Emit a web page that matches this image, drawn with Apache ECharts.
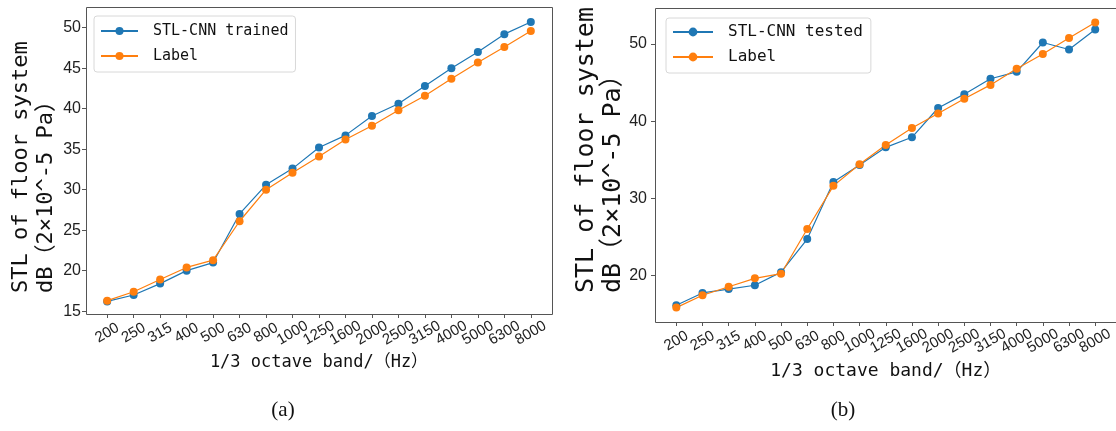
<!DOCTYPE html>
<html>
<head>
<meta charset="utf-8">
<script src="https://cdn.jsdelivr.net/npm/echarts@6/dist/echarts.min.js"></script>
<style>
html,body{margin:0;padding:0;background:#fff;}
#c{width:1116px;height:431px;}
</style>
</head>
<body>
<div id="c"></div>
<script>
// ---- data ----
const bands = ['200','250','315','400','500','630','800','1000','1250','1600','2000','2500','3150','4000','5000','6300','8000'];
const trainedPred  = [16.2, 17.0, 18.4, 20.0, 21.0, 27.0, 30.6, 32.6, 35.2, 36.7, 39.1, 40.6, 42.8, 45.0, 47.0, 49.2, 50.7];
const trainedLabel = [16.3, 17.4, 18.9, 20.4, 21.3, 26.1, 30.0, 32.1, 34.1, 36.2, 37.9, 39.8, 41.6, 43.7, 45.7, 47.6, 49.6];
const testedPred   = [16.1, 17.7, 18.2, 18.7, 20.4, 24.7, 32.1, 34.3, 36.6, 37.9, 41.7, 43.5, 45.5, 46.4, 50.2, 49.3, 51.9];
const testedLabel  = [15.8, 17.4, 18.5, 19.6, 20.2, 26.0, 31.6, 34.4, 36.9, 39.1, 41.0, 42.9, 44.7, 46.8, 48.7, 50.8, 52.8];
const yTicksA = [15, 20, 25, 30, 35, 40, 45, 50];
const yTicksB = [20, 30, 40, 50];
const seriesNames = ['STL-CNN trained', 'STL-CNN tested', 'Label'];
const xTitle = '1/3 octave band/（Hz）';
const yTitle1 = 'STL of floor system';
const yTitle2 = 'dB（2×10^-5 Pa）';
const captions = ['(a)', '(b)'];

// ---- styles / layout ----
const BLUE = '#1f77b4', ORANGE = '#ff7f0e', AXIS = '#555';
const MONO = "'DejaVu Sans Mono','Noto Sans CJK SC',monospace";
const SANS = "'Liberation Sans',Arial,sans-serif";
const PAD = 0.8; // matplotlib-like x margin, in category steps

// frame boxes
const frameA = {left: 86, top: 7, width: 466, height: 307};
const frameB = {left: 655, top: 8, width: 469, height: 314};
function innerOf(f) {
  const step = f.width / (bands.length - 1 + 2 * PAD);
  return {left: f.left + PAD * step, top: f.top, width: step * (bands.length - 1), height: f.height, off: PAD * step};
}
const inA = innerOf(frameA), inB = innerOf(frameB);

function xAxisFor(gi, nameGap, nameSize) {
  return {
    type: 'category', gridIndex: gi, data: bands, boundaryGap: false,
    axisLine: {show: false},
    axisTick: {show: true, inside: false, length: 4, interval: 0, lineStyle: {color: AXIS}},
    axisLabel: {
      interval: 0, rotate: 30, align: 'center', verticalAlign: 'middle', margin: 19,
      fontFamily: SANS, fontSize: 15, color: '#222'
    },
    splitLine: {show: false},
    name: xTitle, nameLocation: 'middle', nameGap: nameGap,
    nameTextStyle: {fontFamily: MONO, fontSize: nameSize, color: '#111'}
  };
}
function yAxisFor(gi, min, max, ticks, margin, off) {
  return {
    type: 'value', gridIndex: gi, min: min, max: max, offset: off,
    splitLine: {show: false},
    axisLine: {show: false},
    axisTick: {show: true, inside: false, length: 4, lineStyle: {color: AXIS}, customValues: ticks},
    axisLabel: {customValues: ticks, margin: margin, fontFamily: SANS, fontSize: 16, color: '#222'}
  };
}
function lineSeries(name, data, color, gi) {
  return {
    type: 'line', name: name, xAxisIndex: gi, yAxisIndex: gi, data: data,
    symbol: 'circle', symbolSize: 8, showAllSymbol: true,
    lineStyle: {color: color, width: 1.2}, itemStyle: {color: color},
    emphasis: {disabled: true}, animation: false
  };
}
function yTitleText(x1, x2, yStart, size) {
  return [
    {type: 'text', x: x1, y: yStart, rotation: Math.PI / 2,
     style: {text: yTitle1, fontFamily: MONO, fontSize: size, fill: '#111', align: 'left', verticalAlign: 'middle'}},
    {type: 'text', x: x2, y: yStart, rotation: Math.PI / 2,
     style: {text: yTitle2, fontFamily: MONO, fontSize: size, fill: '#111', align: 'left', verticalAlign: 'middle'}}
  ];
}
function frameRect(f) {
  return {type: 'rect', shape: {x: f.left + 0.5, y: f.top + 0.5, width: f.width, height: f.height},
          style: {fill: 'none', stroke: AXIS, lineWidth: 1}, z: 1, silent: true};
}

const chart = echarts.init(document.getElementById('c'), null, {renderer: 'canvas'});
chart.setOption({
  backgroundColor: '#fff',
  animation: false,
  grid: [
    {left: inA.left, top: inA.top, width: inA.width, height: inA.height, show: false},
    {left: inB.left, top: inB.top, width: inB.width, height: inB.height, show: false}
  ],
  xAxis: [xAxisFor(0, 33, 17), xAxisFor(1, 31, 18)],
  yAxis: [yAxisFor(0, 14.65, 52.55, yTicksA, 5, inA.off), yAxisFor(1, 13.93, 54.68, yTicksB, 8, inB.off)],
  legend: [
    {data: [seriesNames[0], seriesNames[2]], orient: 'vertical', left: 94, top: 16,
     padding: [7, 7, 8, 6], itemWidth: 37, itemHeight: 10, itemGap: 9,
     borderColor: '#d8d8d8', borderWidth: 1, borderRadius: 3, backgroundColor: '#fff',
     textStyle: {fontFamily: MONO, fontSize: 15, color: '#111', lineHeight: 16, padding: [0, 0, 0, 10]},
     selectedMode: false, z: 5},
    {data: [seriesNames[1], seriesNames[2]], orient: 'vertical', left: 666, top: 18,
     padding: [6, 8, 8, 6], itemWidth: 40, itemHeight: 11, itemGap: 9,
     borderColor: '#d8d8d8', borderWidth: 1, borderRadius: 3, backgroundColor: '#fff',
     textStyle: {fontFamily: MONO, fontSize: 16, color: '#111', lineHeight: 16, padding: [0, 0, 0, 10]},
     selectedMode: false, z: 5}
  ],
  series: [
    lineSeries(seriesNames[0], trainedPred, BLUE, 0),
    lineSeries(seriesNames[2], trainedLabel, ORANGE, 0),
    lineSeries(seriesNames[1], testedPred, BLUE, 1),
    lineSeries(seriesNames[2], testedLabel, ORANGE, 1)
  ],
  graphic: [
    frameRect(frameA),
    frameRect(frameB),
    ...yTitleText(21.5, 46, 293, 22),
    ...yTitleText(586, 613, 293, 25),
    {type: 'text', x: 283, y: 410, style: {text: captions[0], fontFamily: "'Liberation Serif',serif", fontSize: 21, fill: '#111', align: 'center', verticalAlign: 'middle'}},
    {type: 'text', x: 843, y: 410, style: {text: captions[1], fontFamily: "'Liberation Serif',serif", fontSize: 21, fill: '#111', align: 'center', verticalAlign: 'middle'}}
  ]
});
</script>
</body>
</html>
